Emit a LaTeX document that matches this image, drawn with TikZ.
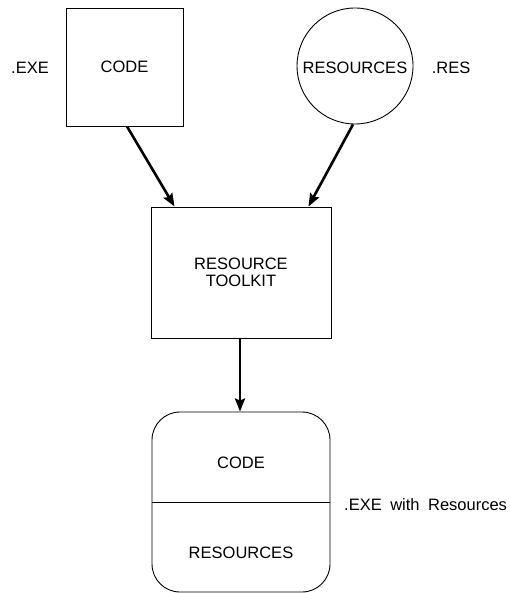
\documentclass[tikz,border=0pt]{standalone}
\usepackage{fontspec}
\setmainfont{Liberation Sans}
\usetikzlibrary{arrows.meta}
\begin{document}
\begin{tikzpicture}[x=1pt,y=-1pt,
  lbl/.style={font=\fontsize{16.5}{17}\selectfont, inner sep=0pt, align=center},
  shapebox/.style={draw, line width=0.9pt, inner sep=0pt, lbl},
  flow/.style={line width=2.6pt, -{Stealth[length=13pt,width=10pt,inset=2pt]}}]
\useasboundingbox (0,0) rectangle (510,593);
\node[shapebox, rectangle, minimum width=117pt, minimum height=118pt] (code) at (124.5,67) {CODE};
\node[shapebox, circle, minimum size=116pt] (res) at (355,66) {};
\node[lbl] (restext) at (355,68) {RESOURCES};
\node[lbl] (exe) at (30,68) {.EXE};
\node[lbl] (reslbl) at (451,68) {.RES};
\node[shapebox, rectangle, minimum width=180pt, minimum height=131pt] (tk) at (241,272.5) {RESOURCE\\TOOLKIT};
\node[shapebox, rectangle, rounded corners=28pt, minimum width=178pt, minimum height=180pt] (out) at (241,502) {};
\draw[line width=0.9pt] (out.west) -- (out.east);
\node[lbl] (outcode) at (241,463) {CODE};
\node[lbl] (outres) at (241,553) {RESOURCES};
\node[lbl, anchor=west] (outlbl) at (344,505) {.EXE\hspace{8.5pt}with\hspace{8.5pt}Resources};
\draw[flow] ([xshift=2.5pt]code.south) -- ([xshift=24pt]tk.north west);
\draw[flow] ([xshift=-2pt]res.south) -- ([xshift=-23pt]tk.north east);
\draw[flow] ([xshift=-1pt]tk.south) -- ([xshift=-1pt]out.north);
\end{tikzpicture}
\end{document}
